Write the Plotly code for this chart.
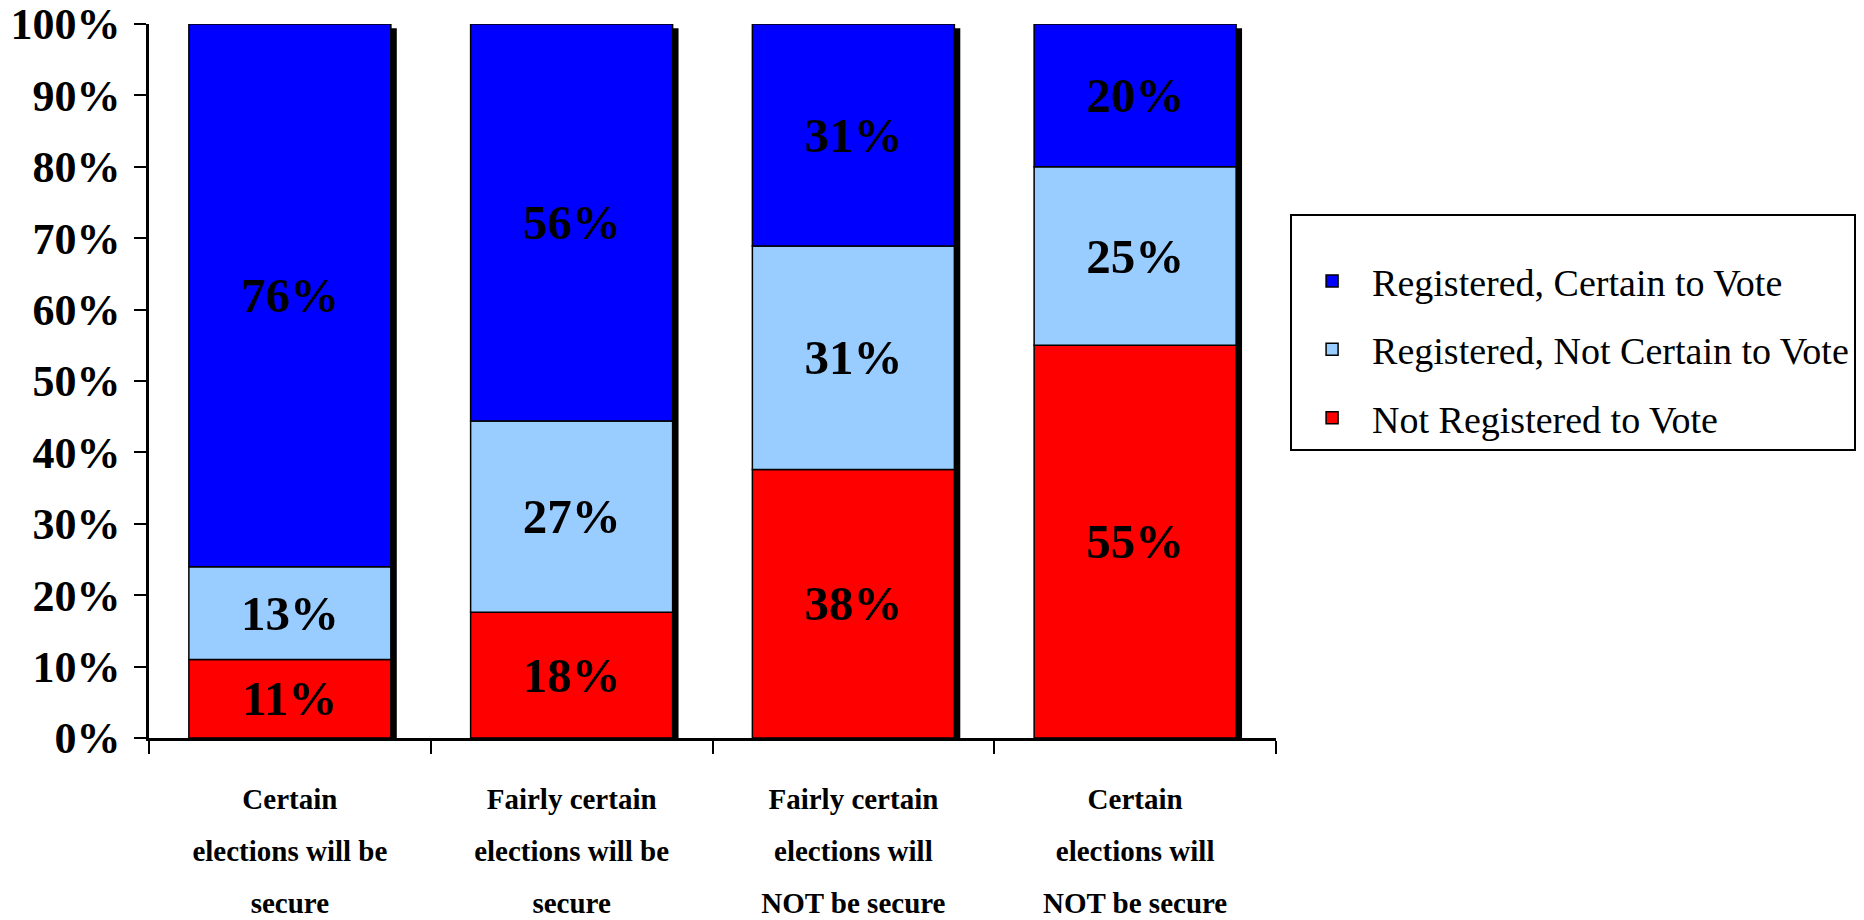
import plotly.graph_objects as go

categories = [
    "Certain<br>elections will be<br>secure",
    "Fairly certain<br>elections will be<br>secure",
    "Fairly certain<br>elections will<br>NOT be secure",
    "Certain<br>elections will<br>NOT be secure",
]
not_registered = [11, 17.6, 37.6, 55]
registered_not_certain = [13, 26.8, 31.3, 25]
registered_certain = [76, 55.6, 31.1, 20]

series = [
    ("Not Registered to Vote", not_registered, "#FF0000", 3),
    ("Registered, Not Certain to Vote", registered_not_certain, "#99CCFF", 2),
    ("Registered, Certain to Vote", registered_certain, "#0000FF", 1),
]

SERIF = "Liberation Serif, Times New Roman, serif"
BAR_W = 0.717
SH_DX = 0.021   # shadow shift in category units
SH_DY = 0.6     # shadow shift in % units

totals = [sum(v) for v in zip(*[s[1] for s in series])]

# tick labels: small glyphs inside a larger line box to get the wide line spacing
ticktext = ["<br>".join(f"<span style='font-size:29px'>{ln}</span>" for ln in c.split("<br>"))
            for c in categories]

fig = go.Figure()
# drop shadow behind each stacked bar
fig.add_trace(go.Bar(
    x=categories, y=totals, base=[-SH_DY] * len(totals),
    width=BAR_W, offset=-BAR_W / 2 + SH_DX,
    marker=dict(color="black", line=dict(width=0)),
    showlegend=False, hoverinfo="skip",
))

base = [0] * len(categories)
for name, vals, color, rank in series:
    fig.add_trace(go.Bar(
        x=categories, y=vals, base=list(base), name=name,
        width=BAR_W, offset=-BAR_W / 2,
        marker=dict(color=color, line=dict(color="black", width=1.5)),
        text=[f"{round(v)}%" for v in vals],
        textposition="inside", insidetextanchor="middle",
        textfont=dict(family=SERIF, size=49, color="black", weight="bold"),
        constraintext="none", cliponaxis=False,
        legendgroup=name, legendrank=rank,
    ))
    base = [b + v for b, v in zip(base, vals)]

fig.update_layout(
    width=1864, height=920,
    barmode="overlay",
    plot_bgcolor="white", paper_bgcolor="white",
    margin=dict(l=141, r=596, t=16, b=190, autoexpand=False),
    font=dict(family=SERIF, color="black"),
    legend=dict(
        x=1.0125, y=0.734, xanchor="left", yanchor="top",
        bordercolor="black", borderwidth=2, bgcolor="white",
        font=dict(family=SERIF, size=38, color="black"),
        traceorder="grouped", tracegroupgap=16,
        itemwidth=70,
        title=dict(text=" ", font=dict(size=26)),
    ),
    xaxis=dict(
        showline=True, linecolor="black", linewidth=2.5,
        ticks="outside", ticklen=13, tickwidth=2, tickcolor="black",
        tickson="boundaries", range=[-0.5, 3.5],
        tickvals=categories, ticktext=ticktext,
        tickfont=dict(family=SERIF, size=40, color="black", weight="bold"),
        ticklabelstandoff=20, automargin=False, ticklabeloverflow="allow",
        showgrid=False, zeroline=False, fixedrange=True,
    ),
    yaxis=dict(
        range=[0, 100], dtick=10, ticksuffix="%",
        showline=True, linecolor="black", linewidth=2.5,
        ticks="outside", ticklen=12, tickwidth=2, tickcolor="black",
        tickfont=dict(family=SERIF, size=44, color="black", weight="bold"),
        ticklabelstandoff=5, automargin=False, ticklabeloverflow="allow",
        showgrid=False, zeroline=False, fixedrange=True,
    ),
)

fig.write_html("out.html")
